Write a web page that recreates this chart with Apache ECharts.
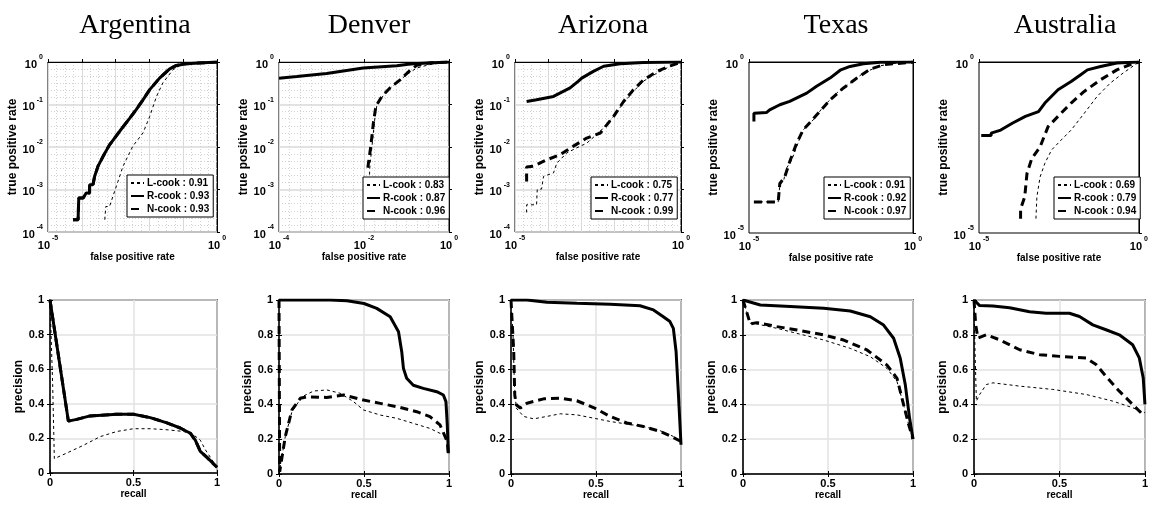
<!DOCTYPE html>
<html>
<head>
<meta charset="utf-8">
<script src="https://cdn.jsdelivr.net/npm/echarts@6/dist/echarts.min.js"></script>
<style>
html, body { margin: 0; padding: 0; background: #fff; }
#chart { width: 1151px; height: 507px; }
</style>
</head>
<body>
<div id="chart"></div>
<script>
// regions and AUC values shown in legends
var regions = ['Argentina', 'Denver', 'Arizona', 'Texas', 'Australia'];
var aucL = [0.91, 0.83, 0.75, 0.91, 0.69];
var aucR = [0.93, 0.87, 0.77, 0.92, 0.79];
var aucN = [0.93, 0.96, 0.99, 0.97, 0.94];

// ROC curves, [log10(false positive rate), log10(true positive rate)]
var argRocL = [[-3.32,-3.71],[-3.29,-3.40],[-3.18,-3.40],[-2.93,-2.81],[-2.78,-2.45],[-2.49,-1.98],[-2.19,-1.67],[-1.99,-1.28],[-1.79,-0.81],[-1.60,-0.49],[-1.30,-0.18],[-1.06,-0.06],[0,0]];
var argRocR = [[-4.26,-3.71],[-4.11,-3.71],[-4.09,-3.20],[-3.96,-3.20],[-3.87,-3.08],[-3.77,-3.08],[-3.77,-2.89],[-3.67,-2.89],[-3.62,-2.69],[-3.52,-2.45],[-3.37,-2.22],[-3.18,-1.95],[-2.88,-1.63],[-2.58,-1.32],[-2.39,-1.12],[-2.19,-0.89],[-1.99,-0.65],[-1.70,-0.38],[-1.40,-0.16],[-1.20,-0.08],[-0.91,-0.04],[0,0]];
var argRocN = [[-4.26,-3.71],[-4.11,-3.71],[-4.09,-3.20],[-3.96,-3.20],[-3.87,-3.08],[-3.77,-3.08],[-3.77,-2.89],[-3.67,-2.89],[-3.62,-2.69],[-3.52,-2.45],[-3.37,-2.22],[-3.18,-1.95],[-2.88,-1.63],[-2.58,-1.32],[-2.39,-1.12],[-2.19,-0.89],[-1.99,-0.65],[-1.70,-0.38],[-1.40,-0.16],[-1.20,-0.08],[-0.91,-0.04],[0,0]];

var denRocL = [[-1.87,-2.65],[-1.86,-2.42],[-1.82,-2.06],[-1.78,-1.67],[-1.74,-1.28],[-1.70,-1.04],[-1.62,-0.89],[-1.47,-0.69],[-1.23,-0.49],[-1.00,-0.30],[-0.76,-0.14],[-0.45,-0.06],[0,0]];
var denRocR = [[-4.00,-0.38],[-3.58,-0.34],[-2.88,-0.27],[-2.02,-0.14],[-1.23,-0.09],[-1.00,-0.06],[-0.84,-0.04],[0,0]];
var denRocN = [[-1.91,-2.49],[-1.84,-1.98],[-1.78,-1.44],[-1.72,-1.04],[-1.58,-0.81],[-1.39,-0.61],[-1.15,-0.42],[-0.92,-0.20],[-0.76,-0.08],[-0.45,-0.02],[0,0]];

var ariRocL = [[-4.65,-3.54],[-4.65,-3.36],[-4.35,-3.36],[-4.33,-3.00],[-4.20,-2.99],[-4.14,-2.69],[-3.84,-2.61],[-3.74,-2.38],[-3.44,-2.14],[-3.14,-2.02],[-2.84,-1.91],[-2.43,-1.63],[-2.03,-1.28],[-1.73,-0.96],[-1.43,-0.69],[-1.13,-0.45],[-0.72,-0.26],[-0.32,-0.10],[0,0]];
var ariRocR = [[-4.65,-0.93],[-4.35,-0.89],[-3.84,-0.81],[-3.34,-0.61],[-3.09,-0.45],[-2.99,-0.38],[-2.64,-0.22],[-2.33,-0.10],[-1.83,-0.04],[-1.13,-0.01],[0,0]];
var ariRocN = [[-4.65,-2.81],[-4.65,-2.69],[-4.65,-2.47],[-4.45,-2.45],[-4.04,-2.30],[-3.64,-2.18],[-3.24,-1.98],[-2.84,-1.79],[-2.43,-1.67],[-2.03,-1.28],[-1.73,-0.93],[-1.43,-0.65],[-1.13,-0.42],[-0.72,-0.22],[-0.32,-0.09],[0,0]];

var texRocL = [[-4.85,-4.09],[-4.11,-4.09],[-4.06,-3.60],[-3.94,-3.45],[-3.86,-3.11],[-3.70,-2.87],[-3.55,-2.48],[-3.35,-1.99],[-3.04,-1.69],[-2.73,-1.30],[-2.33,-0.91],[-1.92,-0.62],[-1.51,-0.32],[-1.00,-0.11],[-0.49,-0.03],[0,0]];
var texRocR = [[-4.85,-1.74],[-4.85,-1.50],[-4.47,-1.48],[-4.37,-1.40],[-4.06,-1.25],[-3.76,-1.15],[-3.24,-0.91],[-2.94,-0.71],[-2.53,-0.47],[-2.22,-0.24],[-1.92,-0.13],[-1.51,-0.05],[-1.00,-0.01],[0,0]];
var texRocN = [[-4.85,-4.09],[-4.11,-4.09],[-4.06,-3.55],[-3.91,-3.36],[-3.76,-2.92],[-3.55,-2.38],[-3.35,-1.99],[-2.94,-1.55],[-2.53,-1.11],[-2.12,-0.76],[-1.71,-0.47],[-1.31,-0.21],[-0.90,-0.08],[0,0]];

var ausRocL = [[-3.22,-4.58],[-3.19,-3.94],[-3.09,-3.36],[-2.94,-2.96],[-2.73,-2.57],[-2.43,-2.28],[-2.12,-1.99],[-1.71,-1.50],[-1.31,-1.01],[-0.90,-0.62],[-0.49,-0.32],[0,0]];
var ausRocR = [[-4.93,-2.15],[-4.62,-2.15],[-4.62,-2.08],[-4.32,-1.99],[-3.96,-1.79],[-3.55,-1.59],[-3.14,-1.45],[-2.94,-1.20],[-2.53,-0.81],[-2.12,-0.57],[-1.82,-0.37],[-1.61,-0.23],[-1.20,-0.13],[-0.69,-0.03],[0,0]];
var ausRocN = [[-3.70,-4.58],[-3.70,-4.30],[-3.57,-3.94],[-3.50,-3.26],[-3.35,-2.82],[-3.09,-2.48],[-2.84,-1.89],[-2.53,-1.59],[-2.12,-1.20],[-1.71,-0.86],[-1.20,-0.52],[-0.69,-0.23],[-0.29,-0.08],[0,0]];

// precision-recall curves, [recall, precision]
var argPrL = [[0,1],[0.016,0.51],[0.026,0.083],[0.10,0.115],[0.20,0.16],[0.30,0.21],[0.40,0.24],[0.50,0.256],[0.60,0.256],[0.70,0.25],[0.80,0.24],[0.86,0.22],[0.90,0.19],[0.93,0.135],[1.0,0.033]];
var argPrR = [[0,1],[0.11,0.30],[0.12,0.29],[0.16,0.31],[0.24,0.33],[0.40,0.34],[0.50,0.34],[0.60,0.32],[0.70,0.29],[0.78,0.26],[0.84,0.23],[0.87,0.19],[0.90,0.125],[0.94,0.09],[1.0,0.033]];
var argPrN = [[0,1],[0.11,0.30],[0.12,0.29],[0.16,0.31],[0.24,0.33],[0.40,0.34],[0.50,0.34],[0.60,0.32],[0.70,0.29],[0.78,0.26],[0.84,0.23],[0.87,0.19],[0.90,0.125],[0.94,0.09],[1.0,0.033]];

var denPrL = [[0,0],[0.037,0.215],[0.076,0.358],[0.135,0.444],[0.204,0.477],[0.282,0.483],[0.36,0.464],[0.438,0.416],[0.497,0.368],[0.595,0.339],[0.693,0.32],[0.79,0.291],[0.888,0.262],[0.967,0.224],[1.0,0.186]];
var denPrR = [[0,1],[0.30,1.0],[0.40,0.996],[0.50,0.98],[0.575,0.952],[0.654,0.904],[0.703,0.818],[0.722,0.703],[0.732,0.607],[0.751,0.55],[0.79,0.51],[0.849,0.492],[0.928,0.473],[0.967,0.454],[0.982,0.416],[0.99,0.28],[0.996,0.119]];
var denPrN = [[0,1],[0.004,0.013],[0.037,0.215],[0.076,0.368],[0.125,0.435],[0.164,0.444],[0.28,0.44],[0.38,0.454],[0.497,0.425],[0.595,0.406],[0.693,0.387],[0.81,0.358],[0.888,0.33],[0.947,0.282],[0.99,0.186],[0.996,0.119]];

var ariPrL = [[0,1],[0.012,0.80],[0.02,0.512],[0.031,0.379],[0.074,0.331],[0.133,0.317],[0.211,0.331],[0.29,0.346],[0.387,0.34],[0.485,0.321],[0.583,0.302],[0.681,0.287],[0.779,0.273],[0.877,0.249],[0.955,0.216],[1.0,0.172]];
var ariPrR = [[0,1],[0.094,1.0],[0.211,0.987],[0.387,0.981],[0.583,0.975],[0.759,0.967],[0.838,0.943],[0.896,0.904],[0.935,0.876],[0.955,0.837],[0.971,0.704],[0.984,0.474],[1.0,0.168]];
var ariPrN = [[0,1],[0.016,0.704],[0.022,0.455],[0.031,0.398],[0.055,0.379],[0.094,0.407],[0.192,0.432],[0.29,0.436],[0.387,0.421],[0.485,0.382],[0.583,0.331],[0.681,0.293],[0.779,0.273],[0.877,0.245],[0.955,0.21],[1.0,0.187]];

var texPrL = [[0,1],[0.043,0.866],[0.082,0.862],[0.2,0.837],[0.318,0.808],[0.475,0.77],[0.631,0.722],[0.749,0.674],[0.847,0.607],[0.906,0.531],[0.945,0.397],[0.975,0.282],[1.0,0.201]];
var texPrR = [[0,1],[0.102,0.971],[0.278,0.962],[0.475,0.952],[0.631,0.937],[0.749,0.904],[0.827,0.856],[0.886,0.78],[0.925,0.665],[0.955,0.511],[0.98,0.32],[1.0,0.201]];
var texPrN = [[0,1],[0.043,0.862],[0.082,0.87],[0.2,0.847],[0.318,0.828],[0.475,0.799],[0.592,0.77],[0.729,0.713],[0.847,0.626],[0.906,0.55],[0.945,0.397],[0.975,0.282],[1.0,0.201]];

var ausPrL = [[0,1],[0.006,0.705],[0.014,0.419],[0.033,0.457],[0.072,0.514],[0.111,0.524],[0.267,0.505],[0.461,0.486],[0.656,0.457],[0.811,0.419],[0.928,0.381],[1.0,0.352]];
var ausPrR = [[0,1],[0.033,0.968],[0.111,0.966],[0.208,0.956],[0.325,0.933],[0.422,0.924],[0.558,0.924],[0.617,0.905],[0.695,0.857],[0.772,0.829],[0.85,0.80],[0.928,0.743],[0.967,0.667],[0.99,0.552],[1.0,0.40]];
var ausPrN = [[0,1],[0.01,0.857],[0.023,0.781],[0.072,0.80],[0.15,0.771],[0.267,0.714],[0.383,0.686],[0.50,0.676],[0.656,0.667],[0.714,0.629],[0.772,0.562],[0.85,0.476],[0.928,0.40],[0.977,0.352]];

// axis ranges of the ROC panels (decades)
var rocXMin = [-5, -4, -5, -5, -5];
var rocYMin = [-4, -4, -4, -5, -5];
var rocXStep = [5, 2, 5, 5, 5];
var rocYStep = [1, 1, 1, 5, 5];

var rocData = [[argRocL, argRocR, argRocN], [denRocL, denRocR, denRocN], [ariRocL, ariRocR, ariRocN], [texRocL, texRocR, texRocN], [ausRocL, ausRocR, ausRocN]];
var prData = [[argPrL, argPrR, argPrN], [denPrL, denPrR, denPrN], [ariPrL, ariPrR, ariPrN], [texPrL, texPrR, texPrN], [ausPrL, ausPrR, ausPrN]];

var F = 'Liberation Sans, Arial, sans-serif';
var topBoxes = [[48, 62, 169, 170], [279, 62, 170, 170], [515, 62, 166, 170], [749, 62, 164, 171], [979, 62, 164, 171]];
var botBoxes = [[50, 300, 167, 173], [279, 300, 170, 174], [511, 300, 170, 174], [743, 300, 170, 174], [974, 300, 172, 174]];
var titleX = [130, 364, 598, 831, 1060];
var legendPos = [[127, 175], [363, 177], [591, 177], [824, 177], [1054, 177]];

var styles = [
  { width: 1, type: [3, 3] },   // L-cook
  { width: 3, type: 'solid' },  // R-cook
  { width: 3, type: [8, 5] }    // N-cook
];

var supRich = {
  b: { fontFamily: F, fontWeight: 'bold', fontSize: 11, color: '#000', lineHeight: 16, verticalAlign: 'bottom' },
  e: { fontFamily: F, fontWeight: 'bold', fontSize: 7, color: '#000', lineHeight: 8, verticalAlign: 'top', padding: [0, 0, 0, 2] }
};
function powLabel(v) { return '{b|10}{e|' + v + '}'; }

var option = {
  animation: false,
  backgroundColor: '#fff',
  title: [], grid: [], xAxis: [], yAxis: [], legend: [], series: []
};

for (var i = 0; i < 5; i++) {
  option.title.push({
    text: regions[i], left: titleX[i], top: 7, textAlign: 'center',
    textStyle: { fontFamily: 'Liberation Serif, Times New Roman, serif', fontWeight: 'normal', fontSize: 28, color: '#000' }
  });

  var tb = topBoxes[i], bb = botBoxes[i];
  var withGrid = i < 3;
  option.grid.push({ left: tb[0], top: tb[1], width: tb[2], height: tb[3], show: true, borderColor: '#000', borderWidth: 1, backgroundColor: 'transparent' });
  option.grid.push({ left: bb[0], top: bb[1], width: bb[2], height: bb[3], show: true, borderColor: '#000', borderWidth: 1.5, backgroundColor: 'transparent' });

  // ROC axes (values are decades)
  option.xAxis.push({
    type: 'value', gridIndex: 2 * i, min: rocXMin[i], max: 0, interval: withGrid ? (i === 1 ? 2 : 1) : rocXStep[i],
    name: 'false positive rate', nameLocation: 'middle', nameGap: 10,
    nameTextStyle: { fontFamily: F, fontWeight: 'bold', fontSize: 10, color: '#000' },
    axisLine: { lineStyle: { color: '#000', width: 1 } },
    axisTick: { inside: true, length: 3, lineStyle: { color: '#000' } },
    axisLabel: {
      margin: 3, rich: supRich,
      formatter: (function (step) { return function (v) { return (v % step === 0) ? powLabel(v) : ''; }; })(rocXStep[i])
    },
    splitLine: { show: withGrid, lineStyle: { color: '#d9d9d9', width: 1 } },
    minorTick: { show: withGrid, splitNumber: i === 1 ? 8 : 4, length: 0 },
    minorSplitLine: { show: withGrid, lineStyle: { color: '#d2d2d2', type: [1, 2], width: 1 } }
  });
  option.yAxis.push({
    type: 'value', gridIndex: 2 * i, min: rocYMin[i], max: 0, interval: rocYStep[i],
    name: 'true positive rate', nameLocation: 'middle', nameGap: 26,
    nameTextStyle: { fontFamily: F, fontWeight: 'bold', fontSize: 12, color: '#000' },
    axisLine: { lineStyle: { color: '#000', width: 1 } },
    axisTick: { inside: true, length: 3, lineStyle: { color: '#000' } },
    axisLabel: { margin: 5, rich: supRich, formatter: powLabel },
    splitLine: { show: withGrid, lineStyle: { color: '#d9d9d9', width: 1.5 } },
    minorTick: { show: withGrid, splitNumber: 6, length: 0 },
    minorSplitLine: { show: withGrid, lineStyle: { color: '#d2d2d2', type: [1, 2], width: 1 } }
  });

  // PR axes
  option.xAxis.push({
    type: 'value', gridIndex: 2 * i + 1, min: 0, max: 1, interval: 0.5,
    name: 'recall', nameLocation: 'middle', nameGap: 14,
    nameTextStyle: { fontFamily: F, fontWeight: 'bold', fontSize: 10, color: '#000' },
    axisLine: { lineStyle: { color: '#000', width: 1.5 } },
    axisTick: { inside: false, length: 3, lineStyle: { color: '#000' } },
    axisLabel: { margin: 4, fontFamily: F, fontWeight: 'bold', fontSize: 11, color: '#000' },
    splitLine: { show: true, lineStyle: { color: '#e2e2e2', width: 1.5 } }
  });
  option.yAxis.push({
    type: 'value', gridIndex: 2 * i + 1, min: 0, max: 1, interval: 0.2,
    name: 'precision', nameLocation: 'middle', nameGap: 24,
    nameTextStyle: { fontFamily: F, fontWeight: 'bold', fontSize: 12, color: '#000' },
    axisLine: { lineStyle: { color: '#000', width: 1.5 } },
    axisTick: { inside: false, length: 3, lineStyle: { color: '#000' } },
    axisLabel: { margin: 6, fontFamily: F, fontWeight: 'bold', fontSize: 11, color: '#000',
      formatter: function (v) { return +v.toFixed(1) + ''; } },
    splitLine: { show: true, lineStyle: { color: '#e2e2e2', width: 1.5 } }
  });

  var names = ['L-cook : ' + aucL[i].toFixed(2), 'R-cook : ' + aucR[i].toFixed(2), 'N-cook : ' + aucN[i].toFixed(2)];
  var order = [2, 0, 1]; // draw R-cook last so it sits on top
  for (var k = 0; k < 3; k++) {
    var m = order[k];
    option.series.push({
      name: names[m], type: 'line', xAxisIndex: 2 * i, yAxisIndex: 2 * i,
      data: rocData[i][m], symbol: 'none', showSymbol: false, silent: true,
      color: '#000', lineStyle: { color: '#000', width: styles[m].width, type: styles[m].type }, z: 3
    });
    option.series.push({
      name: regions[i] + ' PR ' + m, type: 'line', xAxisIndex: 2 * i + 1, yAxisIndex: 2 * i + 1,
      data: prData[i][m], symbol: 'none', showSymbol: false, silent: true,
      color: '#000', lineStyle: { color: '#000', width: styles[m].width, type: styles[m].type }, z: 3
    });
  }

  option.legend.push({
    data: names, orient: 'vertical', left: legendPos[i][0], top: legendPos[i][1],
    backgroundColor: '#fff', borderColor: '#000', borderWidth: 1, borderRadius: 0,
    padding: [3, 4, 3, 3], itemGap: 3, itemWidth: 13, itemHeight: 12,
    selectedMode: false, z: 10,
    itemStyle: { opacity: 0, color: 'transparent', borderWidth: 0 },
    textStyle: { fontFamily: F, fontWeight: 'bold', fontSize: 10, color: '#000', padding: [0, 0, 0, -2] }
  });
}

// outward box ticks on the top and right sides of the PR panels
for (var j = 0; j < 5; j++) {
  option.xAxis.push({
    type: 'value', gridIndex: 2 * j + 1, position: 'top', min: 0, max: 1, interval: 0.5,
    axisLine: { show: false }, axisLabel: { show: false }, splitLine: { show: false },
    axisTick: { show: true, inside: false, length: 3, lineStyle: { color: '#000' } }
  });
  option.yAxis.push({
    type: 'value', gridIndex: 2 * j + 1, position: 'right', min: 0, max: 1, interval: 0.2,
    axisLine: { show: false }, axisLabel: { show: false }, splitLine: { show: false },
    axisTick: { show: true, inside: false, length: 3, lineStyle: { color: '#000' } }
  });
}

var chart = echarts.init(document.getElementById('chart'), null, { renderer: 'canvas' });
chart.setOption(option);
</script>
</body>
</html>
